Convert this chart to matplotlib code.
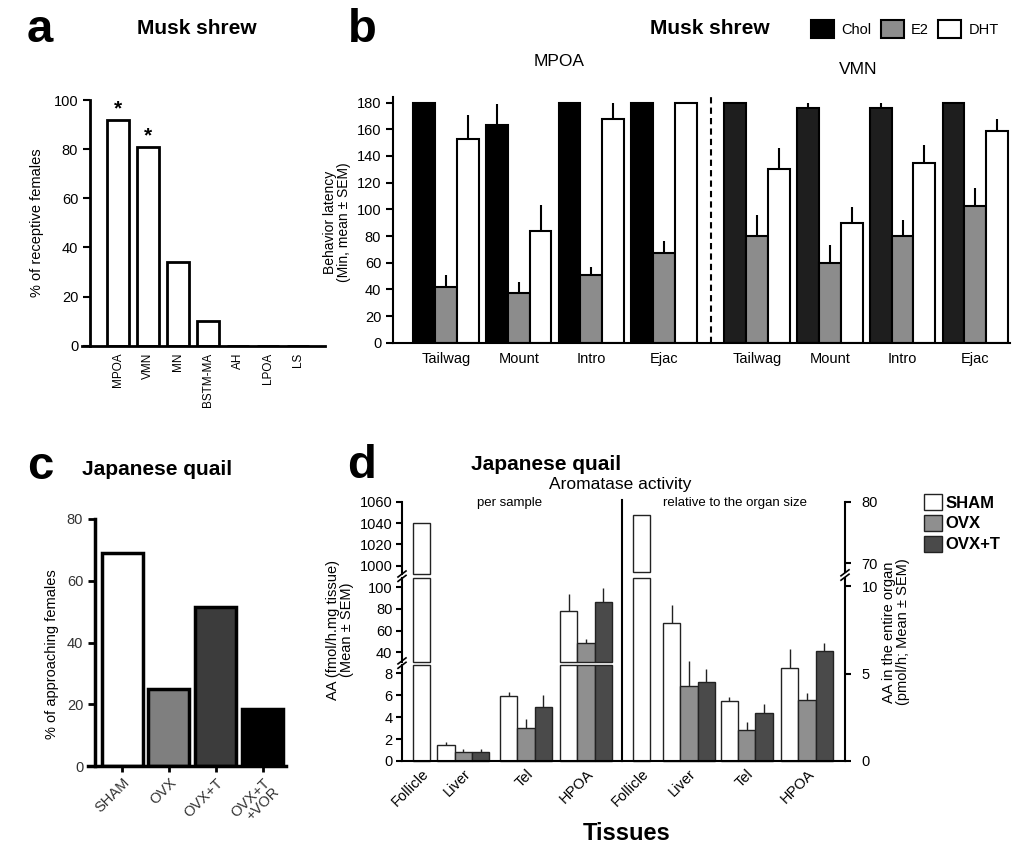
import numpy as np
import matplotlib
matplotlib.use('Agg')
import matplotlib.pyplot as plt
from matplotlib.lines import Line2D
from matplotlib.patches import Patch

plt.rcParams['font.family'] = ['Liberation Sans', 'DejaVu Sans']

W, H = 1013, 848

# ---- data ----
# a: musk shrew, implant site
a_regions = ['MPOA', 'VMN', 'MN', 'BSTM-MA', 'AH', 'LPOA', 'LS']
a_receptive = [92, 81, 34, 10, 0, 0, 0]
a_signif = [True, True, False, False, False, False, False]

# b: behavior latency
b_behaviors = ['Tailwag', 'Mount', 'Intro', 'Ejac']
b_mpoa_chol = [180, 163, 180, 180]
b_mpoa_chol_err = [0, 16, 0, 0]
b_mpoa_e2 = [42, 37.5, 51, 67.5]
b_mpoa_e2_err = [8.5, 8, 6, 9]
b_mpoa_dht = [153, 84, 168, 180]
b_mpoa_dht_err = [17.5, 19, 12, 0]
b_vmn_chol = [180, 176, 176, 180]
b_vmn_chol_err = [0, 3.5, 3.5, 0]
b_vmn_e2 = [80, 60, 80, 102.5]
b_vmn_e2_err = [16, 13, 12, 13.5]
b_vmn_dht = [130, 90, 135, 159]
b_vmn_dht_err = [16, 12, 13, 9]

# c: japanese quail approach
c_groups = ['SHAM', 'OVX', 'OVX+T', 'OVX+T\n+VOR']
c_approach = [69, 25, 51.5, 18.5]

# d: aromatase activity
d_tissues = ['Follicle', 'Liver', 'Tel', 'HPOA']
d_groups = ['SHAM', 'OVX', 'OVX+T']
d_sample_sham = [1040, 1.45, 5.9, 78.5]
d_sample_sham_err = [0, 0.25, 0.37, 15]
d_sample_ovx = [np.nan, 0.82, 3.0, 48.5]
d_sample_ovx_err = [np.nan, 0.25, 0.82, 4.2]
d_sample_ovxt = [np.nan, 0.82, 4.95, 86]
d_sample_ovxt_err = [np.nan, 0.25, 1.06, 13]
d_organ_sham = [77.8, 7.9, 3.46, 5.31]
d_organ_sham_err = [0, 1.05, 0.2, 1.08]
d_organ_ovx = [np.nan, 4.27, 1.77, 3.5]
d_organ_ovx_err = [np.nan, 1.46, 0.44, 0.38]
d_organ_ovxt = [np.nan, 4.5, 2.73, 6.31]
d_organ_ovxt_err = [np.nan, 0.75, 0.54, 0.42]

fig = plt.figure(figsize=(W / 100, H / 100), dpi=100)


def px_axes(x0, y0, x1, y1):
    return fig.add_axes([x0 / W, 1 - y1 / H, (x1 - x0) / W, (y1 - y0) / H])


def ftext(x, y, s, **kw):
    fig.text(x / W, 1 - y / H, s, **kw)


# ---------------- panel a ----------------
ax = px_axes(82, 100, 325, 345.7)
xa = np.arange(len(a_regions))
ax.bar(xa, a_receptive, width=0.72, color='white', edgecolor='black', linewidth=2)
for i, (v, s) in enumerate(zip(a_receptive, a_signif)):
    if s:
        ax.text(i, v + 0.5, '*', ha='center', va='bottom', fontsize=15, fontweight='bold')
ax.set_xlim(-1.2, 6.9)
ax.set_ylim(0, 100)
ax.spines[['top', 'right']].set_visible(False)
ax.spines['left'].set_position(('axes', 0.033))
ax.spines[['left', 'bottom']].set_linewidth(2)
ax.set_yticks(np.arange(0, 101, 20))
ax.set_xticks(xa, a_regions, rotation=90, fontsize=8.5)
ax.tick_params(axis='x', length=0, pad=5)
ax.tick_params(axis='y', length=5, width=1.5, labelsize=10.5)
ftext(37, 223, '% of receptive females', rotation=90, ha='center', va='center', fontsize=10.5)
ftext(40, 30, 'a', fontsize=34, fontweight='bold', ha='center', va='center')
ftext(197, 28, 'Musk shrew', fontsize=15, fontweight='bold', ha='center', va='center')

# ---------------- panel b ----------------
ax = px_axes(393, 97.3, 1010, 342.7)
centers = np.concatenate([np.arange(4), np.arange(4) + 4.28])
chol = b_mpoa_chol + b_vmn_chol
chol_err = b_mpoa_chol_err + b_vmn_chol_err
e2 = b_mpoa_e2 + b_vmn_e2
e2_err = b_mpoa_e2_err + b_vmn_e2_err
dht = b_mpoa_dht + b_vmn_dht
dht_err = b_mpoa_dht_err + b_vmn_dht_err
chol_cols = ['black'] * 4 + ['#1e1e1e'] * 4
bw = 0.3
h_chol = ax.bar(centers - bw, chol, width=bw, color=chol_cols, edgecolor='black', linewidth=1.5)
h_e2 = ax.bar(centers, e2, width=bw, color='#8c8c8c', edgecolor='black', linewidth=1.5)
h_dht = ax.bar(centers + bw, dht, width=bw, color='white', edgecolor='black', linewidth=1.5)
for off, vals, errs in [(-bw, chol, chol_err), (0, e2, e2_err), (bw, dht, dht_err)]:
    vals = np.array(vals, float)
    errs = np.array(errs, float)
    m = errs > 0
    ax.errorbar(centers[m] + off, vals[m], yerr=[np.zeros(m.sum()), errs[m]],
                fmt='none', ecolor='black', elinewidth=1.5, capsize=0)
ax.axvline(3.645, color='black', linestyle=(0, (3, 2)), linewidth=1.5)
ax.set_xlim(-0.729, 7.758)
ax.set_ylim(0, 184)
ax.spines[['top', 'right']].set_visible(False)
ax.spines[['left', 'bottom']].set_linewidth(1.5)
ax.set_yticks(np.arange(0, 181, 20))
ax.set_xticks(centers, b_behaviors * 2, fontsize=10.5)
ax.tick_params(axis='x', length=0, pad=7)
ax.tick_params(axis='y', length=5, width=1.5, labelsize=10.5)
ftext(337, 222, 'Behavior latency\n(Min, mean ± SEM)', rotation=90, ha='center', va='center',
      fontsize=10, linespacing=1.0)
ftext(362, 30, 'b', fontsize=34, fontweight='bold', ha='center', va='center')
ftext(710, 28, 'Musk shrew', fontsize=15, fontweight='bold', ha='center', va='center')
ftext(559, 62, 'MPOA', fontsize=12.5, ha='center', va='center')
ftext(858, 69, 'VMN', fontsize=12.5, ha='center', va='center')
fig.legend([h_chol[0], h_e2[0], h_dht[0]], ['Chol', 'E2', 'DHT'], ncol=3,
           loc='center left', bbox_to_anchor=(811 / W, 1 - 29 / H), frameon=False,
           fontsize=10.5, handlelength=1.6, handleheight=1.6, handletextpad=0.5,
           columnspacing=0.6, borderpad=0, borderaxespad=0)

# ---------------- panel c ----------------
ax = px_axes(88, 519, 286, 766)
xc = np.arange(len(c_groups))
ax.bar(xc, c_approach, width=0.876, color=['white', '#7f7f7f', '#3c3c3c', 'black'],
       edgecolor='black', linewidth=2.5)
ax.set_xlim(-0.73, 3.5)
ax.set_ylim(0, 80)
ax.spines[['top', 'right']].set_visible(False)
ax.spines['left'].set_position(('axes', 7 / 198))
ax.spines[['left', 'bottom']].set_linewidth(2.5)
ax.set_yticks(np.arange(0, 81, 20))
ax.set_xticks(xc, c_groups, rotation=45, ha='right', rotation_mode='anchor',
              fontsize=10.5, color='#333333', linespacing=0.9)
ax.tick_params(axis='x', length=4, width=2, pad=3)
ax.tick_params(axis='y', length=5, width=2, labelsize=10.5, labelcolor='#333333')
ftext(52, 654, '% of approaching females', rotation=90, ha='center', va='center', fontsize=10.5)
ftext(40, 467, 'c', fontsize=34, fontweight='bold', ha='center', va='center')
ftext(157, 470, 'Japanese quail', fontsize=15, fontweight='bold', ha='center', va='center')

# ---------------- panel d ----------------
d_cols = ['white', '#8f8f8f', '#4a4a4a']


def draw_segment(ax, pos, series, errs, lo, hi):
    for k, (vals, err, col) in enumerate(zip(series, errs, d_cols)):
        for x, v, e in zip(pos + (k - 1), vals, err):
            if np.isnan(v) or v <= lo:
                continue
            top = min(v, hi)
            ax.bar(x, top - lo, bottom=lo, width=1, color=col, edgecolor='#222222',
                   linewidth=1, clip_on=False)
            if v <= hi and e > 0:
                ax.errorbar(x, v, yerr=[[0], [e]], fmt='none', ecolor='#222222',
                            elinewidth=1, capsize=0)


def seg_style(ax, side, xlim, lo, hi, ticks, bottom=False):
    ax.set_xlim(*xlim)
    ax.set_ylim(lo, hi)
    for sp in ['top', 'right', 'left', 'bottom']:
        ax.spines[sp].set_visible(False)
    ax.spines[side].set_visible(True)
    ax.spines[side].set_linewidth(1.5)
    ax.yaxis.set_ticks_position(side)
    ax.set_yticks(ticks)
    ax.tick_params(axis='y', length=4, width=1.5, labelsize=10.5,
                   pad=3 if side == 'left' else 8)
    if bottom:
        ax.spines['bottom'].set_visible(True)
        ax.spines['bottom'].set_linewidth(1.5)
    else:
        ax.set_xticks([])


left_pos = np.array([2.12, 3.55, 7.17, 10.64])
right_pos = np.array([2.12, 3.87, 7.2, 10.69])
left_series = [d_sample_sham, d_sample_ovx, d_sample_ovxt]
left_errs = [d_sample_sham_err, d_sample_ovx_err, d_sample_ovxt_err]
right_series = [d_organ_sham, d_organ_ovx, d_organ_ovxt]
right_errs = [d_organ_sham_err, d_organ_ovx_err, d_organ_ovxt_err]
lxlim = (0, 220 / 17.3)
rxlim = (0, 223 / 17.3)

ax_lt = px_axes(402, 501.7, 622, 574.3)
ax_lm = px_axes(402, 578, 622, 661.7)
ax_lb = px_axes(402, 664.5, 622, 761)
for a_, lo, hi, tk, bt in [(ax_lt, 992, 1060, [1000, 1020, 1040, 1060], False),
                           (ax_lm, 31.4, 108.5, [40, 60, 80, 100], False),
                           (ax_lb, 0, 8.8, [0, 2, 4, 6, 8], True)]:
    draw_segment(a_, left_pos, left_series, left_errs, lo, hi)
    seg_style(a_, 'left', lxlim, lo, hi, tk, bt)

ax_rt = px_axes(622, 501.7, 845, 571.7)
ax_rb = px_axes(622, 578.3, 845, 761)
for a_, lo, hi, tk, bt in [(ax_rt, 68.6, 80, [70, 80], False),
                           (ax_rb, 0, 10.45, [0, 5, 10], True)]:
    draw_segment(a_, right_pos, right_series, right_errs, lo, hi)
    seg_style(a_, 'right', rxlim, lo, hi, tk, bt)

for a_, pos in [(ax_lb, left_pos), (ax_rb, right_pos)]:
    tick_pos = np.where(np.isnan(np.array(d_sample_ovx, float)), pos - 1, pos)
    a_.set_xticks(tick_pos, d_tissues, rotation=45, ha='right', rotation_mode='anchor',
                  fontsize=10.5)
    a_.tick_params(axis='x', length=0, pad=4)

# separator between the two halves
fig.add_artist(Line2D([622 / W, 622 / W], [1 - 500 / H, 1 - 761 / H], color='black',
                      linewidth=1.5, transform=fig.transFigure))


# axis break marks
def break_mark(x, y):
    for dy in (-2.2, 2.2):
        fig.add_artist(Line2D([(x - 4) / W, (x + 4) / W],
                              [1 - (y + dy + 3) / H, 1 - (y + dy - 3) / H],
                              color='black', linewidth=1.2, transform=fig.transFigure))


break_mark(402, 576.2)
break_mark(402, 663.1)
break_mark(845, 575)

ftext(340, 630, 'AA (fmol/h.mg tissue)\n(Mean ± SEM)', rotation=90, ha='center', va='center',
      fontsize=10.5, linespacing=1.0)
ftext(896, 632, 'AA in the entire organ\n(pmol/h; Mean ± SEM)', rotation=90, ha='center',
      va='center', fontsize=10.5, linespacing=1.0)
ftext(362, 466, 'd', fontsize=34, fontweight='bold', ha='center', va='center')
ftext(546, 464, 'Japanese quail', fontsize=15, fontweight='bold', ha='center', va='center')
ftext(620, 484, 'Aromatase activity', fontsize=12.5, ha='center', va='center')
ftext(510, 503, 'per sample', fontsize=9.5, ha='center', va='center')
ftext(735, 503, 'relative to the organ size', fontsize=9.5, ha='center', va='center')
ftext(627, 833, 'Tissues', fontsize=17, fontweight='bold', ha='center', va='center')

fig.legend([Patch(facecolor=c, edgecolor='#222222', linewidth=1) for c in d_cols], d_groups,
           loc='upper left', bbox_to_anchor=(924 / W, 1 - 494 / H), frameon=False,
           prop={'weight': 'bold', 'size': 12}, handlelength=1.1, handleheight=1.1,
           handletextpad=0.2, labelspacing=0.25, borderpad=0, borderaxespad=0)

fig.savefig('out.png', dpi=100)
